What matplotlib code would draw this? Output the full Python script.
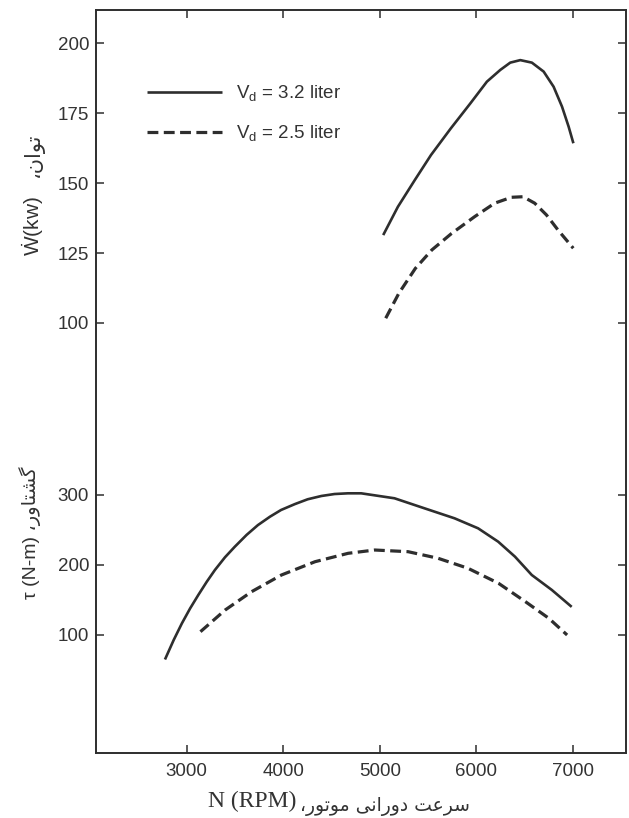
import matplotlib
matplotlib.use("Agg")
import matplotlib.pyplot as plt

# ---------------- data ----------------
rpm_ticks = [3000, 4000, 5000, 6000, 7000]
power_ticks = [100, 125, 150, 175, 200]
torque_ticks = [100, 200, 300]

# Power (kW) vs engine speed
n_pow_32 = [5035, 5187, 5363, 5530, 5735, 5939, 6109, 6248, 6351, 6455, 6575, 6697, 6800,
            6887, 6956, 7005]
p_32 = [131.4, 141.5, 151.1, 160.0, 169.5, 178.5, 186.2, 190.4, 193.0, 193.9, 193.0, 189.8,
        184.4, 177.3, 170.1, 164.2]
n_pow_25 = [5061, 5197, 5368, 5539, 5744, 5983, 6190, 6363, 6483, 6604, 6726, 6846, 7004]
p_25 = [101.7, 110.6, 119.5, 126.1, 132.0, 138.0, 142.8, 144.9, 145.1, 142.8, 138.6, 133.2, 126.7]

# Torque (N-m) vs engine speed
n_tq_32 = [2780, 2865, 2950, 3035, 3119, 3207, 3292, 3396, 3497, 3620, 3737, 3862, 3977,
           4120, 4253, 4395, 4531, 4670, 4807, 5152, 5462, 5774, 6018, 6226, 6400, 6574,
           6782, 6977]
t_32 = [66.7, 92.9, 116.7, 138.0, 157.0, 176.0, 192.9, 211.0, 226.0, 243.0, 257.0, 269.0,
        278.6, 287.0, 293.9, 298.6, 301.4, 302.4, 302.4, 295.3, 281.0, 266.7, 252.4, 233.3,
        211.9, 185.7, 164.3, 141.4]
n_tq_25 = [3142, 3398, 3672, 3981, 4329, 4672, 4948, 5293, 5603, 5913, 6229, 6508, 6750, 6940]
t_25 = [104.7, 135.7, 161.9, 185.7, 204.7, 216.7, 221.4, 219.0, 209.6, 195.3, 173.9, 147.6,
        123.9, 100.0]

labels = ["V$_\\mathregular{d}$ = 3.2 liter", "V$_\\mathregular{d}$ = 2.5 liter"]

# ---------------- simple Persian shaping (presentation forms, visual order) ----------------
FORMS = {
    'ا': ('\uFE8D', '\uFE8E', None, None),
    'ت': ('\uFE95', '\uFE96', '\uFE97', '\uFE98'),
    'و': ('\uFEED', '\uFEEE', None, None),
    'ن': ('\uFEE5', '\uFEE6', '\uFEE7', '\uFEE8'),
    'گ': ('\uFB92', '\uFB93', '\uFB94', '\uFB95'),
    'ش': ('\uFEB5', '\uFEB6', '\uFEB7', '\uFEB8'),
    'ر': ('\uFEAD', '\uFEAE', None, None),
    'س': ('\uFEB1', '\uFEB2', '\uFEB3', '\uFEB4'),
    'ع': ('\uFEC9', '\uFECA', '\uFECB', '\uFECC'),
    'د': ('\uFEA9', '\uFEAA', None, None),
    'ی': ('\uFBFC', '\uFBFD', '\uFBFE', '\uFBFF'),
    'م': ('\uFEE1', '\uFEE2', '\uFEE3', '\uFEE4'),
}


def dual(c):
    return c in FORMS and FORMS[c][2] is not None


def shape(s):
    out = []
    for i, ch in enumerate(s):
        if ch not in FORMS:
            out.append(ch)
            continue
        prev = s[i - 1] if i > 0 else ''
        nxt = s[i + 1] if i + 1 < len(s) else ''
        jp = dual(prev)
        jn = dual(ch) and nxt in FORMS
        iso, fin, ini, med = FORMS[ch]
        if jp and jn:
            out.append(med)
        elif jp:
            out.append(fin)
        elif jn:
            out.append(ini)
        else:
            out.append(iso)
    return ''.join(reversed(out))


# ---------------- figure ----------------
plt.rcParams['font.family'] = ['Liberation Sans', 'DejaVu Sans']
plt.rcParams['mathtext.fontset'] = 'custom'
plt.rcParams['mathtext.rm'] = 'Liberation Sans'

W, H = 629, 818
fig = plt.figure(figsize=(W / 100, H / 100), dpi=100)
fig.patch.set_facecolor('white')

L, R, T, B = 96, 626, 10, 753
ax = fig.add_axes([L / W, 1 - B / H, (R - L) / W, (B - T) / H])
ax2 = ax.twinx()

ink = '#2e2e2e'
ax.plot(n_pow_32, p_32, color=ink, lw=1.9, solid_capstyle='butt', solid_joinstyle='round',
        label=labels[0])
ax.plot(n_pow_25, p_25, color=ink, lw=2.3, dashes=(3.4, 1.7), label=labels[1])
ax2.plot(n_tq_32, t_32, color=ink, lw=1.9, solid_joinstyle='round')
ax2.plot(n_tq_25, t_25, color=ink, lw=2.3, dashes=(3.4, 1.7))

ax.set_xlim(2060, 7550)
ax.set_ylim(-53.6, 211.8)
ax2.set_ylim(-68.6, 992.9)

ax.set_xticks(rpm_ticks)
ax.set_yticks(power_ticks)
ax2.set_yticks(torque_ticks)

fs = 13.5
ax.tick_params(axis='both', direction='in', length=6, width=1.1, colors=ink,
               labelsize=fs, top=True, right=True, labelcolor='#333333')
ax.tick_params(axis='x', pad=7)
ax.tick_params(axis='y', pad=5)
ax2.tick_params(axis='y', direction='in', length=6, width=1.1, colors=ink,
                labelsize=fs, left=True, right=True, labelleft=True, labelright=False,
                pad=5, labelcolor='#333333')
for a in (ax, ax2):
    for s in a.spines.values():
        s.set_color(ink)
        s.set_linewidth(1.2)

leg = ax.legend(loc='upper left', bbox_to_anchor=(51 / (R - L), 1 - (84 - T) / (B - T)),
                frameon=False, fontsize=fs, handlelength=4.0, handletextpad=0.75,
                labelspacing=1.05, borderpad=0, borderaxespad=0)
for t in leg.get_texts():
    t.set_color('#333333')

# axis labels
fig.text(33 / W, 1 - 226 / H, '$\\dot{\\mathrm{W}}$(kw)', rotation=90,
         ha='center', va='center', fontsize=15, color='#333333')
fig.text(33 / W, 1 - 155 / H, shape('توان،'), rotation=90,
         ha='center', va='center', fontsize=15, color='#333333', family=['DejaVu Sans'])
fig.text(30 / W, 1 - 533 / H, 'τ (N-m) ' + shape('گشتاور،'), rotation=90,
         ha='center', va='center', fontsize=14, color='#333333',
         family=['Liberation Sans', 'DejaVu Sans'])
fig.text(296 / W, 1 - 801 / H, 'N (RPM)', ha='right', va='center', fontsize=17,
         color='#333333', family=['Liberation Serif', 'DejaVu Serif'])
fig.text(470 / W, 1 - 806 / H, shape('سرعت دورانی موتور،'), ha='right', va='center',
         fontsize=13.5, color='#333333', family=['DejaVu Sans'])

fig.savefig('out.png', dpi=100, facecolor='white')
